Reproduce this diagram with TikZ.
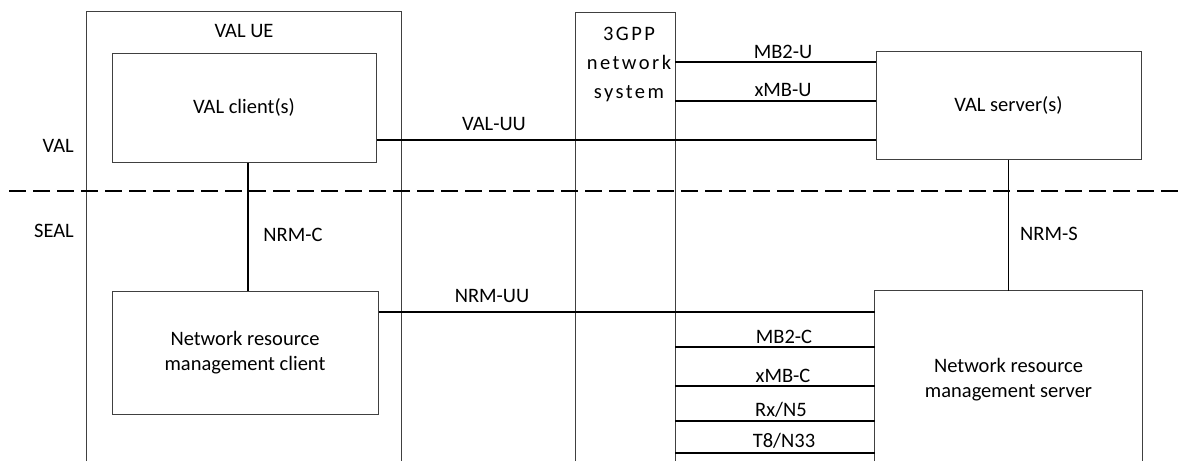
\documentclass[tikz,border=0pt]{standalone}
\usepackage{fontspec}
\setmainfont{Carlito}
\begin{document}
\begin{tikzpicture}[x=1pt,y=-1pt,
  font=\fontsize{20.5}{25}\selectfont,
  box/.style={draw=black!75, line width=1pt},
  conn/.style={draw=black, line width=1.7pt},
  frame/.style={draw=none, inner sep=0pt},
  rect/.style={box, inner sep=0pt, align=center},
  lbl/.style={inner sep=0pt, anchor=base},
  dashline/.style={draw=black, line width=1.8pt, dash pattern=on 17pt off 7pt}]
\useasboundingbox (0,0) rectangle (1178,461);
\fill[white] (0,0) rectangle (1178,461);
\coordinate (bot) at (0,461);
% frames (open at the bottom)
\node[frame, minimum width=314pt, minimum height=449pt] (ue) at (244,236.5) {};
\draw[box] (ue.south west) -- (ue.north west) -- (ue.north east) -- (ue.south east);
\node[frame, minimum width=99pt, minimum height=448pt] (gpp) at (625.5,237) {};
\draw[box] (gpp.south west) -- (gpp.north west) -- (gpp.north east) -- (gpp.south east);
\node[lbl] (lue) at (244,37) {VAL UE};
\node[inner sep=0pt, align=center, font=\fontsize{20.5}{29}\selectfont\addfontfeature{LetterSpace=12}] (lgpp) at (629,64.5) {3GPP\\network\\system};
% boxes
\node[rect, minimum width=264pt, minimum height=109pt] (client) at (244,107.5) {VAL client(s)};
\node[rect, minimum width=265pt, minimum height=108pt] (server) at (1008.5,105) {VAL server(s)};
\node[rect, minimum width=266pt, minimum height=123pt] (nrmc) at (245,352.5) {Network resource\\management client};
\node[frame, align=center, minimum width=267pt, minimum height=178pt] (nrms) at (1008.5,380) {Network resource\\management server};
\draw[box] (nrms.west |- bot) -- (nrms.north west) -- (nrms.north east) -- (nrms.east |- bot);
% layer separator
\coordinate (dl) at (9,191);
\coordinate (dr) at (1178,191);
\draw[dashline] (dl) -- (dr);
\node[lbl, anchor=base east] (lval) at (74,152) {VAL};
\node[lbl, anchor=base east] (lseal) at (74,237) {SEAL};
% connectors
\draw[conn] (client.east |- 0,140) -- (server.west |- 0,140);
\draw[conn] (gpp.east |- 0,62) -- (server.west |- 0,62);
\draw[conn] (gpp.east |- 0,101) -- (server.west |- 0,101);
\draw[conn] (nrmc.east |- 0,312) -- (nrms.west |- 0,312);
\draw[conn] (gpp.east |- 0,347) -- (nrms.west |- 0,347);
\draw[conn] (gpp.east |- 0,386) -- (nrms.west |- 0,386);
\draw[conn] (gpp.east |- 0,421) -- (nrms.west |- 0,421);
\draw[conn] (gpp.east |- 0,453) -- (nrms.west |- 0,453);
\draw[conn] (client.south -| 248,0) -- (nrmc.north -| 248,0);
\draw[conn] (server.south) -- (nrms.north);
% connector labels
\node[lbl] (lvaluu) at (494,130) {VAL-UU};
\node[lbl] (lmb2u) at (783,58) {MB2-U};
\node[lbl] (lxmbu) at (783,96.5) {xMB-U};
\node[lbl] (lnrmuu) at (492,302) {NRM-UU};
\node[lbl] (lmb2c) at (784,343) {MB2-C};
\node[lbl] (lxmbc) at (783,382) {xMB-C};
\node[lbl] (lrx) at (781,416) {Rx/N5};
\node[lbl] (lt8) at (784,447) {T8/N33};
\node[lbl] (lnrmc) at (293,241) {NRM-C};
\node[lbl] (lnrms) at (1049,240) {NRM-S};
\end{tikzpicture}
\end{document}
